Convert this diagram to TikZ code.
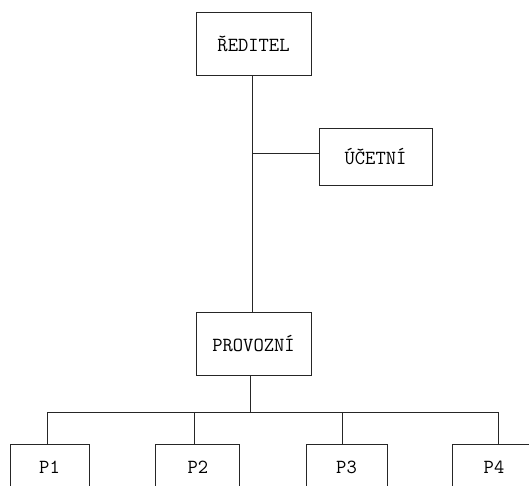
\documentclass[tikz,border=0pt]{standalone}
\usepackage{fontspec}
\begin{document}
\begin{tikzpicture}[x=1pt,y=-1pt,
  unit/.style={draw=black!85, line width=1pt, fill=white, inner sep=0pt,
    font=\ttfamily\fontsize{20}{24}\selectfont},
  wire/.style={draw=black!85, line width=1pt}]
\useasboundingbox (0,0) rectangle (529,485);
\clip (0,0) rectangle (529,485);

% management boxes
\node[unit, minimum width=115pt, minimum height=63pt] (red) at (253.5,43.5) {ŘEDITEL};
\node[unit, minimum width=113pt, minimum height=57pt] (uct) at (375.5,156.5) {ÚČETNÍ};
\node[unit, minimum width=115pt, minimum height=63pt] (prov) at (253.5,343.5) {PROVOZNÍ};

% workshops (boxes run past the lower edge)
\node[unit, minimum width=79pt, minimum height=46pt] (p1) at (49.5,467.7) {P1};
\node[unit, minimum width=84pt, minimum height=46pt] (p2) at (197.8,467.7) {P2};
\node[unit, minimum width=81pt, minimum height=46pt] (p3) at (346.5,467.7) {P3};
\node[unit, minimum width=84pt, minimum height=46pt] (p4) at (494,467.7) {P4};

% trunk and staff branch
\draw[wire] (red.south -| 252,0) -- (prov.north -| 252,0);
\coordinate (tap) at (252,153);
\draw[wire] (tap) -- (tap -| uct.west);

% distribution bus
\coordinate (d1) at (47,412.7);
\coordinate (d2) at (194.7,412.7);
\coordinate (d3) at (342.4,412.7);
\coordinate (d4) at (498.6,412.7);
\draw[wire] (prov.south -| 250.5,0) -- (250.5,412.7);
\draw[wire] (d1) -- (d4);
\draw[wire] (d1) -- (d1 |- p1.north);
\draw[wire] (d2) -- (d2 |- p2.north);
\draw[wire] (d3) -- (d3 |- p3.north);
\draw[wire] (d4) -- (d4 |- p4.north);
\end{tikzpicture}
\end{document}
